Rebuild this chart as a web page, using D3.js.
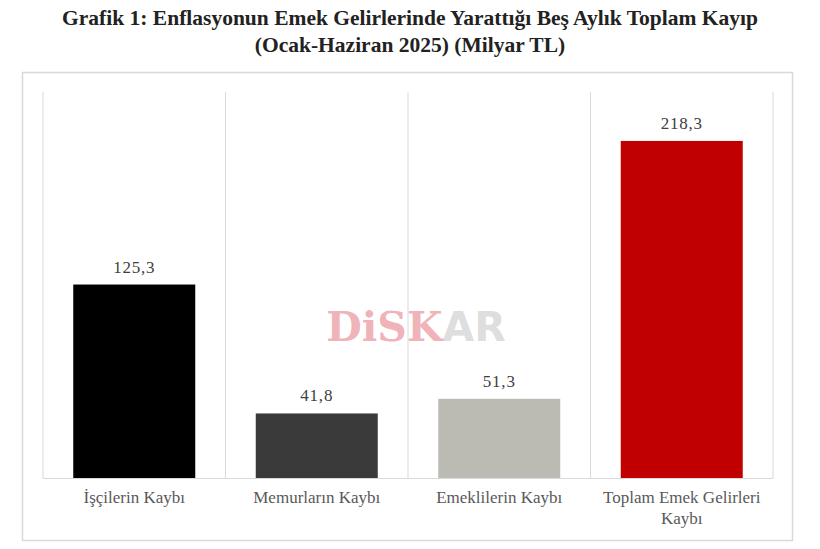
<!DOCTYPE html>
<html><head><meta charset="utf-8">
<script src="https://cdn.jsdelivr.net/npm/d3@7"></script>
<style>body{margin:0;background:#fff}svg{display:block}</style>
</head><body>
<svg id="c" width="820" height="549"></svg>
<script>
const categories = ["İşçilerin Kaybı", "Memurların Kaybı", "Emeklilerin Kaybı", "Toplam Emek Gelirleri Kaybı"];
const values = [125.3, 41.8, 51.3, 218.3];
const valueLabels = ["125,3", "41,8", "51,3", "218,3"];
const colors = ["#000000", "#3a3a3a", "#bcbbb3", "#c00000"];
const titleLines = ["Grafik 1: Enflasyonun Emek Gelirlerinde Yarattığı Beş Aylık Toplam Kayıp", "(Ocak-Haziran 2025) (Milyar TL)"];

(function(){
const svg = d3.select("#c");
const serif = "'Liberation Serif', 'DejaVu Serif', serif";

// Title
svg.selectAll("text.title").data(titleLines).join("text")
  .attr("class","title")
  .attr("x", 410).attr("y", (d,i)=> 25 + i*27)
  .attr("text-anchor","middle")
  .attr("font-family", serif).attr("font-weight","bold")
  .attr("font-size", 21.5).attr("fill","#222")
  .text(d=>d);

// Outer box
svg.append("rect").attr("x",22.5).attr("y",72.5).attr("width",770).attr("height",468)
  .attr("fill","none").attr("stroke","#d9d9d9").attr("stroke-width",1.5);

const pLeft = 43, pRight = 773, pTop = 92, pBottom = 478;
const x = d3.scaleBand().domain(categories).range([pLeft, pRight]).paddingInner(0).paddingOuter(0);
const y = d3.scaleLinear().domain([0, 250]).range([pBottom, pTop]);

// vertical grid lines at band edges
const edges = categories.map(c => x(c)).concat([pRight]);
svg.selectAll("line.grid").data(edges).join("line")
  .attr("class","grid")
  .attr("x1", d=>d).attr("x2", d=>d).attr("y1", pTop).attr("y2", pBottom)
  .attr("stroke","#d9d9d9").attr("stroke-width",1);

// Watermark
const wm = svg.append("text").attr("x", 416).attr("y", 341).attr("text-anchor","middle")
  .attr("font-family","'DejaVu Serif', serif").attr("font-weight","bold").attr("font-size",41);
wm.append("tspan").attr("fill","#e8808c").attr("fill-opacity",0.6).text("DiSK");
wm.append("tspan").attr("fill","#cfcfcf").attr("fill-opacity",0.7).attr("font-family","'DejaVu Sans', sans-serif").text("AR");

// Bars
const bw = 122;
svg.selectAll("rect.bar").data(values).join("rect")
  .attr("class","bar")
  .attr("x", (d,i)=> x(categories[i]) + (x.bandwidth()-bw)/2)
  .attr("width", bw)
  .attr("y", d=> y(d))
  .attr("height", d=> y(0) - y(d))
  .attr("fill", (d,i)=> colors[i]);

// Baseline
svg.append("line").attr("x1",pLeft).attr("x2",pRight).attr("y1",pBottom+0.5).attr("y2",pBottom+0.5)
  .attr("stroke","#d9d9d9").attr("stroke-width",1);

// Value labels
svg.selectAll("text.val").data(values).join("text")
  .attr("class","val")
  .attr("x",(d,i)=> x(categories[i]) + x.bandwidth()/2)
  .attr("y", d=> y(d) - 12)
  .attr("text-anchor","middle")
  .attr("font-family", serif).attr("font-size",17).attr("letter-spacing",0.8).attr("fill","#404040")
  .text((d,i)=> valueLabels[i]);

// Category labels
const catLines = [["İşçilerin Kaybı"],["Memurların Kaybı"],["Emeklilerin Kaybı"],["Toplam Emek Gelirleri","Kaybı"]];
categories.forEach((c,i)=>{
  const t = svg.append("text")
    .attr("x", x(c) + x.bandwidth()/2).attr("y", 503)
    .attr("text-anchor","middle")
    .attr("font-family", serif).attr("font-size",17).attr("fill","#595959");
  catLines[i].forEach((ln,j)=> t.append("tspan").attr("x", x(c)+x.bandwidth()/2).attr("dy", j===0?0:21).text(ln));
});
})();
</script>
</body></html>
